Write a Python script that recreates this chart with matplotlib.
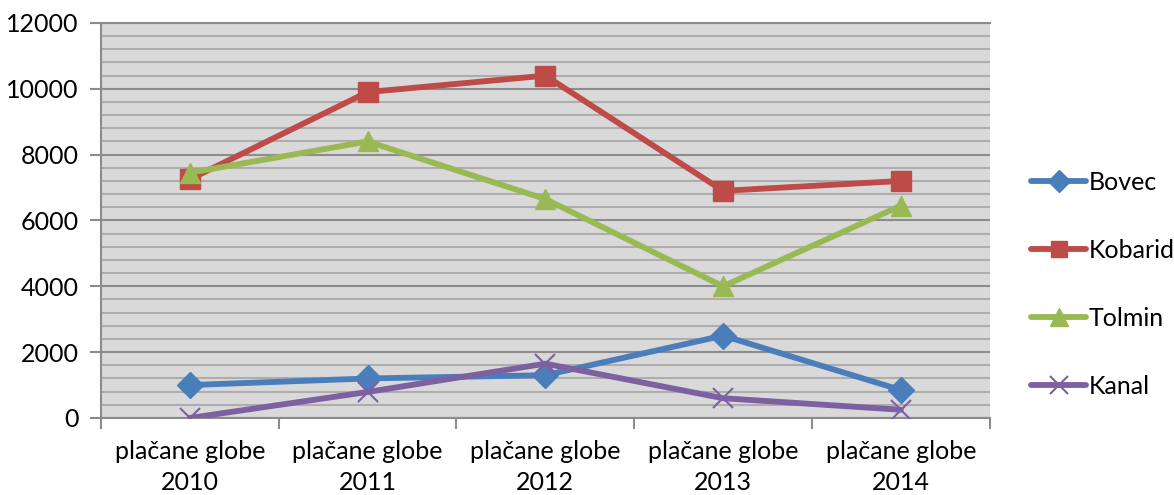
import numpy as np
import matplotlib
matplotlib.use('Agg')
import matplotlib.pyplot as plt
from matplotlib.ticker import MultipleLocator

plt.rcParams['font.family'] = ['Lato', 'DejaVu Sans']

# data
categories = ['plačane globe\n2010', 'plačane globe\n2011', 'plačane globe\n2012',
              'plačane globe\n2013', 'plačane globe\n2014']
bovec = [1000, 1200, 1300, 2500, 850]
kobarid = [7250, 9900, 10400, 6900, 7200]
tolmin = [7450, 8400, 6650, 4000, 6450]
kanal = [0, 790, 1650, 600, 250]

series = [
    ('Bovec', bovec, '#4A7EBB', 'D', 13),
    ('Kobarid', kobarid, '#BE4B48', 's', 14),
    ('Tolmin', tolmin, '#98B954', '^', 15),
    ('Kanal', kanal, '#7D60A0', 'x', 15),
]

fig = plt.figure(figsize=(11.74, 4.95), dpi=100)
ax = fig.add_axes([0.086, 0.1556, 0.757, 0.798])
ax.set_facecolor('#D9D9D9')

x = np.arange(len(categories))
for name, vals, col, mk, ms in series:
    if mk == 'x':
        ax.plot(x, vals, color=col, lw=4.2, marker=mk, ms=ms, mew=1.5,
                label=name, solid_capstyle='round', zorder=3)
    else:
        ax.plot(x, vals, color=col, lw=4.2, marker=mk, ms=ms, mec=col,
                label=name, solid_capstyle='round', zorder=3)

ax.set_xlim(-0.5, 4.5)
ax.set_ylim(0, 12000)
ax.yaxis.set_major_locator(MultipleLocator(2000))
ax.yaxis.set_minor_locator(MultipleLocator(400))
ax.grid(which='major', axis='y', color='#8C8C8C', lw=1.5)
ax.grid(which='minor', axis='y', color='#ADADAD', lw=1.5)
ax.set_axisbelow(True)

ax.set_xticks(x)
ax.set_xticklabels(categories, linespacing=1.4)
ax.set_xticks(np.arange(-0.5, 5, 1), minor=True)
ax.tick_params(axis='x', which='major', length=0, labelsize=18, pad=16)
ax.tick_params(axis='x', which='minor', length=8, color='#8C8C8C', width=1.5)
ax.tick_params(axis='y', which='major', length=8, color='#8C8C8C', width=1.5,
               labelsize=18, pad=8)
ax.tick_params(axis='y', which='minor', length=0)

for s in ['left', 'bottom', 'top']:
    ax.spines[s].set_color('#8C8C8C')
    ax.spines[s].set_linewidth(1.5)
ax.spines['right'].set_visible(False)

leg = ax.legend(loc='center left', bbox_to_anchor=(1021 / 1174, 211 / 495),
                bbox_transform=fig.transFigure, borderaxespad=0, frameon=False,
                fontsize=18, labelspacing=1.8, handlelength=2.2,
                handletextpad=0.1, markerscale=0.85)

fig.savefig('out.png', dpi=100)
